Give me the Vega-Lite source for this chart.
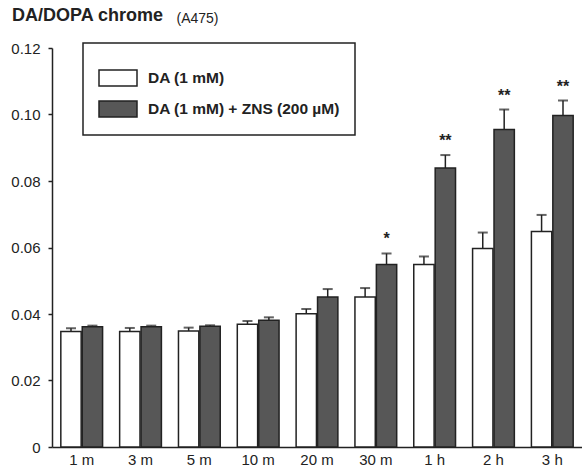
{
  "$schema": "https://vega.github.io/schema/vega-lite/v6.json",
  "width": 530,
  "height": 399,
  "autosize": "none",
  "padding": {"left": 52, "top": 48, "right": 0, "bottom": 25},
  "background": "white",
  "config": {"view": {"stroke": null}, "font": "Liberation Sans"},
  "title": {"text": "DA/DOPA chrome", "anchor": "start", "frame": "group", "dx": -40, "dy": 18, "fontSize": 18, "fontWeight": "bold", "color": "#222"},
  "data": {"values": [
    {"time": "1 m", "series": "DA (1 mM)", "value": 0.0347, "upper": 0.0357, "sig": ""},
    {"time": "1 m", "series": "DA (1 mM) + ZNS (200 µM)", "value": 0.0362, "upper": 0.0365, "sig": ""},
    {"time": "3 m", "series": "DA (1 mM)", "value": 0.0347, "upper": 0.0358, "sig": ""},
    {"time": "3 m", "series": "DA (1 mM) + ZNS (200 µM)", "value": 0.0362, "upper": 0.0365, "sig": ""},
    {"time": "5 m", "series": "DA (1 mM)", "value": 0.0349, "upper": 0.0359, "sig": ""},
    {"time": "5 m", "series": "DA (1 mM) + ZNS (200 µM)", "value": 0.0363, "upper": 0.0366, "sig": ""},
    {"time": "10 m", "series": "DA (1 mM)", "value": 0.0369, "upper": 0.0379, "sig": ""},
    {"time": "10 m", "series": "DA (1 mM) + ZNS (200 µM)", "value": 0.0381, "upper": 0.0390, "sig": ""},
    {"time": "20 m", "series": "DA (1 mM)", "value": 0.0401, "upper": 0.0415, "sig": ""},
    {"time": "20 m", "series": "DA (1 mM) + ZNS (200 µM)", "value": 0.0451, "upper": 0.0475, "sig": ""},
    {"time": "30 m", "series": "DA (1 mM)", "value": 0.0451, "upper": 0.0478, "sig": ""},
    {"time": "30 m", "series": "DA (1 mM) + ZNS (200 µM)", "value": 0.0549, "upper": 0.0582, "sig": "*"},
    {"time": "1 h", "series": "DA (1 mM)", "value": 0.0549, "upper": 0.0573, "sig": ""},
    {"time": "1 h", "series": "DA (1 mM) + ZNS (200 µM)", "value": 0.0839, "upper": 0.0878, "sig": "**"},
    {"time": "2 h", "series": "DA (1 mM)", "value": 0.0597, "upper": 0.0645, "sig": ""},
    {"time": "2 h", "series": "DA (1 mM) + ZNS (200 µM)", "value": 0.0955, "upper": 0.1015, "sig": "**"},
    {"time": "3 h", "series": "DA (1 mM)", "value": 0.0648, "upper": 0.0698, "sig": ""},
    {"time": "3 h", "series": "DA (1 mM) + ZNS (200 µM)", "value": 0.0997, "upper": 0.1042, "sig": "**"}
  ]},
  "encoding": {
    "x": {"field": "time", "type": "nominal", "sort": null,
      "scale": {"paddingInner": 0.29, "paddingOuter": 0.15},
      "axis": {"title": null, "labelAngle": 0, "labelFontSize": 15, "labelColor": "#222", "ticks": false, "labelPadding": 5, "domainColor": "#222", "domainWidth": 1.5}},
    "xOffset": {"field": "series", "type": "nominal", "scale": {"paddingInner": 0.05}}
  },
  "layer": [
    {
      "mark": {"type": "rule", "stroke": "#222", "strokeWidth": 1.5},
      "encoding": {
        "y": {"field": "value", "type": "quantitative"},
        "y2": {"field": "upper"}
      }
    },
    {
      "mark": {"type": "tick", "orient": "horizontal", "size": 10, "thickness": 2, "color": "#222"},
      "encoding": {
        "y": {"field": "upper", "type": "quantitative"}
      }
    },
    {
      "mark": {"type": "bar", "stroke": "#222", "strokeWidth": 1.5},
      "encoding": {
        "y": {"field": "value", "type": "quantitative",
          "scale": {"domain": [0, 0.12], "nice": false},
          "axis": {"title": "(A475)", "titleAngle": 0, "titleAlign": "left", "titleBaseline": "alphabetic", "titleX": 124, "titleY": -26, "titleFontSize": 14, "titleFontWeight": "normal", "titleColor": "#222",
            "values": [0, 0.02, 0.04, 0.06, 0.08, 0.1, 0.12], "labelExpr": "datum.value == 0 ? '0' : format(datum.value, '.2f')",
            "grid": false, "labelFontSize": 15, "labelColor": "#222", "tickSize": 4, "tickColor": "#222", "tickWidth": 1.5, "labelPadding": 8, "domainColor": "#222", "domainWidth": 1.5}},
        "fill": {"field": "series", "type": "nominal",
          "scale": {"domain": ["DA (1 mM)", "DA (1 mM) + ZNS (200 µM)"], "range": ["#ffffff", "#575757"]},
          "legend": {"title": null, "orient": "none", "legendX": 31, "legendY": -5, "strokeColor": "#222", "padding": 15, "rowPadding": 0,
            "symbolType": "M-1,-0.42H1V0.42H-1Z", "symbolSize": 1444, "symbolStrokeColor": "#222", "symbolStrokeWidth": 1.5,
            "labelFontSize": 15.5, "labelFontWeight": "bold", "labelColor": "#222", "labelOffset": 10, "labelLimit": 300,
            "encode": {"legend": {"update": {"strokeWidth": {"value": 1.5}}}}}}
      }
    },
    {
      "mark": {"type": "text", "dy": -14, "fontSize": 16, "fontWeight": "bold", "color": "#222"},
      "encoding": {
        "y": {"field": "upper", "type": "quantitative"},
        "text": {"field": "sig"}
      }
    }
  ]
}
